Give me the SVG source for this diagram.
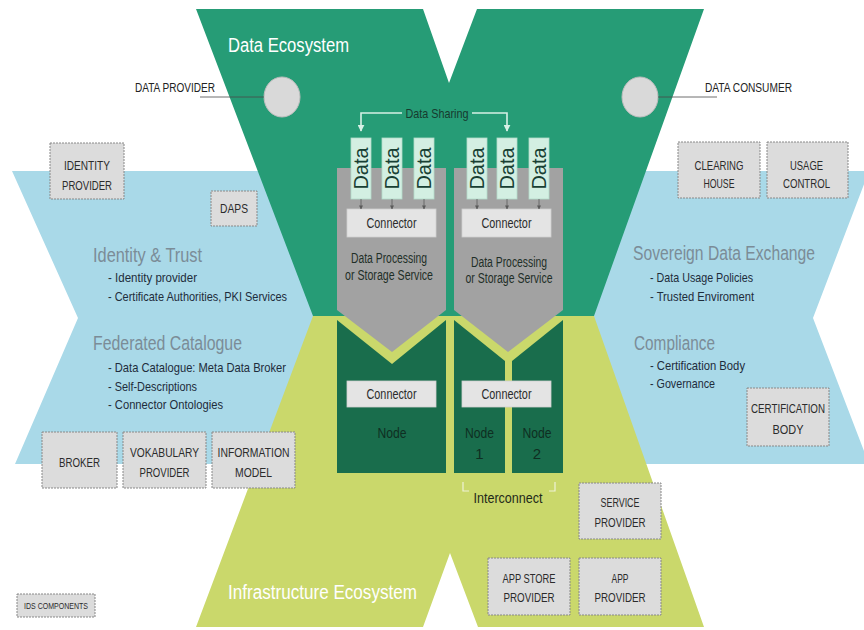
<svg xmlns="http://www.w3.org/2000/svg" width="864" height="630" viewBox="0 0 864 630">
  <defs>
    <marker id="arrowShare" viewBox="0 0 10 10" refX="9" refY="5" markerWidth="7" markerHeight="7" orient="auto" markerUnits="userSpaceOnUse">
      <path d="M0,0 L10,5 L0,10 z" fill="#d6f0e5"/>
    </marker>
    <marker id="arrowTick" viewBox="0 0 10 10" refX="9" refY="5" markerWidth="4" markerHeight="4" orient="auto" markerUnits="userSpaceOnUse">
      <path d="M0,0 L10,5 L0,10 z" fill="#5a5a5a"/>
    </marker>
  </defs>
  <style>
    text { font-family: "Liberation Sans", Arial, sans-serif; }
    .eco { font-size: 20px; fill: #ffffff; }
    .sec { font-size: 20px; fill: #7b8c97; }
    .bul { font-size: 13.5px; fill: #1e2c3b; }
    .lbl { font-size: 12px; fill: #222222; }
    .box { fill: #dcdcdc; stroke: #888888; stroke-width: 1; stroke-dasharray: 2 1; }
    .boxt { font-size: 13px; fill: #2b2b2b; text-anchor: middle; }
    .data { fill: #d3efe2; stroke: #b5dccb; stroke-width: 0.8; }
    .datat { font-size: 20px; fill: #183f33; text-anchor: middle; }
    .conn { fill: #e4e4e4; stroke: #cfcfcf; stroke-width: 0.8; }
    .connt { font-size: 14px; fill: #2b2b2b; text-anchor: middle; }
    .svc { fill: #a2a2a2; }
    .svct { font-size: 14px; fill: #1f2f28; text-anchor: middle; }
    .node { fill: #196d4c; }
    .nodet { font-size: 15px; fill: #0f2f22; text-anchor: middle; }
  </style>

  <rect width="864" height="630" fill="#ffffff"/>

  <!-- horizontal band: trust, catalogue, sovereignty, compliance -->
  <polygon id="band" points="12,171 869,171 813,318 869,464 15,464 78,318" fill="#a9d9e8"/>

  <!-- upper half of the X: data ecosystem -->
  <polygon id="data-ecosystem" points="196,9 423,9 449,83 477,9 704,9 594,316 313,316" fill="#269c76"/>
  <!-- lower half of the X: infrastructure ecosystem -->
  <polygon id="infrastructure-ecosystem" points="313,316 594,316 704,627 478,627 450,553 423,627 196,627" fill="#cad86b"/>

  <text class="eco" x="228" y="52" textLength="121" lengthAdjust="spacingAndGlyphs">Data Ecosystem</text>
  <text class="eco" x="228" y="599" textLength="189" lengthAdjust="spacingAndGlyphs">Infrastructure Ecosystem</text>

  <!-- section headings and bullet lists -->
  <g id="identity-trust">
    <text class="sec" x="93" y="262" textLength="109" lengthAdjust="spacingAndGlyphs">Identity &amp; Trust</text>
    <text class="bul" x="108" y="282" textLength="89" lengthAdjust="spacingAndGlyphs">- Identity provider</text>
    <text class="bul" x="108" y="301" textLength="179" lengthAdjust="spacingAndGlyphs">- Certificate Authorities, PKI Services</text>
  </g>
  <g id="federated-catalogue">
    <text class="sec" x="93" y="350" textLength="149" lengthAdjust="spacingAndGlyphs">Federated Catalogue</text>
    <text class="bul" x="108" y="372" textLength="178" lengthAdjust="spacingAndGlyphs">- Data Catalogue: Meta Data Broker</text>
    <text class="bul" x="108" y="390.5" textLength="89" lengthAdjust="spacingAndGlyphs">- Self-Descriptions</text>
    <text class="bul" x="108" y="409" textLength="115" lengthAdjust="spacingAndGlyphs">- Connector Ontologies</text>
  </g>
  <g id="sovereign-data-exchange">
    <text class="sec" x="633" y="260" textLength="182" lengthAdjust="spacingAndGlyphs">Sovereign Data Exchange</text>
    <text class="bul" x="650" y="282" textLength="103" lengthAdjust="spacingAndGlyphs">- Data Usage Policies</text>
    <text class="bul" x="650" y="301" textLength="104" lengthAdjust="spacingAndGlyphs">- Trusted Enviroment</text>
  </g>
  <g id="compliance">
    <text class="sec" x="634" y="350" textLength="81" lengthAdjust="spacingAndGlyphs">Compliance</text>
    <text class="bul" x="650" y="370" textLength="95" lengthAdjust="spacingAndGlyphs">- Certification Body</text>
    <text class="bul" x="650" y="388" textLength="65" lengthAdjust="spacingAndGlyphs">- Governance</text>
  </g>

  <!-- participants -->
  <g id="data-provider">
    <ellipse cx="282" cy="97" rx="18" ry="20" fill="#d9d9d9" stroke="#bdbdbd"/>
    <text class="lbl" x="135" y="91.5" textLength="80" lengthAdjust="spacingAndGlyphs">DATA PROVIDER</text>
  </g>
  <g id="data-consumer">
    <ellipse cx="640" cy="97" rx="18" ry="20" fill="#d9d9d9" stroke="#bdbdbd"/>
    <text class="lbl" x="705" y="91.5" textLength="87" lengthAdjust="spacingAndGlyphs">DATA CONSUMER</text>
  </g>

  <!-- IDS components -->
  <g id="identity-provider">
    <rect class="box" x="50" y="143" width="74" height="56"/>
    <text class="boxt" x="87" y="169.5" textLength="46" lengthAdjust="spacingAndGlyphs">IDENTITY</text>
    <text class="boxt" x="87" y="190" textLength="50" lengthAdjust="spacingAndGlyphs">PROVIDER</text>
  </g>
  <g id="daps">
    <rect class="box" x="211" y="191" width="46" height="35"/>
    <text class="boxt" x="234" y="213" textLength="28" lengthAdjust="spacingAndGlyphs">DAPS</text>
  </g>
  <g id="clearing-house">
    <rect class="box" x="678" y="142" width="82" height="56"/>
    <text class="boxt" x="719" y="169.5" textLength="49" lengthAdjust="spacingAndGlyphs">CLEARING</text>
    <text class="boxt" x="719" y="187.5" textLength="31" lengthAdjust="spacingAndGlyphs">HOUSE</text>
  </g>
  <g id="usage-control">
    <rect class="box" x="767" y="142" width="81" height="56"/>
    <text class="boxt" x="806.5" y="169.5" textLength="33" lengthAdjust="spacingAndGlyphs">USAGE</text>
    <text class="boxt" x="806.5" y="187.5" textLength="47" lengthAdjust="spacingAndGlyphs">CONTROL</text>
  </g>
  <g id="broker">
    <rect class="box" x="42" y="432" width="75" height="56"/>
    <text class="boxt" x="79.5" y="466.5" textLength="41" lengthAdjust="spacingAndGlyphs">BROKER</text>
  </g>
  <g id="vokabulary-provider">
    <rect class="box" x="123" y="432" width="83" height="56"/>
    <text class="boxt" x="164.5" y="457" textLength="69" lengthAdjust="spacingAndGlyphs">VOKABULARY</text>
    <text class="boxt" x="164.5" y="477" textLength="50" lengthAdjust="spacingAndGlyphs">PROVIDER</text>
  </g>
  <g id="information-model">
    <rect class="box" x="212" y="432" width="83" height="56"/>
    <text class="boxt" x="253.5" y="457" textLength="72" lengthAdjust="spacingAndGlyphs">INFORMATION</text>
    <text class="boxt" x="253.5" y="477" textLength="37" lengthAdjust="spacingAndGlyphs">MODEL</text>
  </g>
  <g id="certification-body">
    <rect class="box" x="747" y="388" width="82" height="58"/>
    <text class="boxt" x="788" y="413" textLength="74" lengthAdjust="spacingAndGlyphs">CERTIFICATION</text>
    <text class="boxt" x="788" y="434" textLength="31" lengthAdjust="spacingAndGlyphs">BODY</text>
  </g>
  <g id="service-provider">
    <rect class="box" x="579" y="483" width="82" height="56"/>
    <text class="boxt" x="620" y="507" textLength="39" lengthAdjust="spacingAndGlyphs">SERVICE</text>
    <text class="boxt" x="620" y="527" textLength="51" lengthAdjust="spacingAndGlyphs">PROVIDER</text>
  </g>
  <g id="app-store-provider">
    <rect class="box" x="488" y="558" width="82" height="57"/>
    <text class="boxt" x="529" y="583" textLength="53" lengthAdjust="spacingAndGlyphs">APP STORE</text>
    <text class="boxt" x="529" y="602" textLength="51" lengthAdjust="spacingAndGlyphs">PROVIDER</text>
  </g>
  <g id="app-provider">
    <rect class="box" x="579" y="558" width="82" height="57"/>
    <text class="boxt" x="620" y="583" textLength="17" lengthAdjust="spacingAndGlyphs">APP</text>
    <text class="boxt" x="620" y="602" textLength="51" lengthAdjust="spacingAndGlyphs">PROVIDER</text>
  </g>
  <g id="ids-components">
    <rect class="box" x="17" y="594" width="78" height="23"/>
    <text class="boxt" x="56" y="608.5" style="font-size:9px" textLength="64" lengthAdjust="spacingAndGlyphs">IDS COMPONENTS</text>
  </g>

  <!-- service blocks with their data and connectors -->
  <g id="service-left">
    <polygon class="svc" points="337,168 446,168 446,310 392,352 337,310"/>
    <text class="svct" x="389" y="263" textLength="76" lengthAdjust="spacingAndGlyphs">Data Processing</text>
    <text class="svct" x="389" y="280" textLength="88" lengthAdjust="spacingAndGlyphs">or Storage Service</text>
  </g>
  <g id="service-right">
    <polygon class="svc" points="454,168 563,168 563,310 508,352 454,310"/>
    <text class="svct" x="509" y="267" textLength="76" lengthAdjust="spacingAndGlyphs">Data Processing</text>
    <text class="svct" x="509" y="283" textLength="87" lengthAdjust="spacingAndGlyphs">or Storage Service</text>
  </g>

  <g id="data-l1"><rect class="data" x="351" y="138" width="20" height="61"/><text class="datat" transform="translate(368 168.5) rotate(-90)" textLength="42" lengthAdjust="spacingAndGlyphs">Data</text></g>
  <g id="data-l2"><rect class="data" x="382" y="138" width="20" height="61"/><text class="datat" transform="translate(399 168.5) rotate(-90)" textLength="42" lengthAdjust="spacingAndGlyphs">Data</text></g>
  <g id="data-l3"><rect class="data" x="414" y="138" width="20" height="61"/><text class="datat" transform="translate(431 168.5) rotate(-90)" textLength="42" lengthAdjust="spacingAndGlyphs">Data</text></g>
  <g id="data-r1"><rect class="data" x="467" y="138" width="20" height="61"/><text class="datat" transform="translate(484 168.5) rotate(-90)" textLength="42" lengthAdjust="spacingAndGlyphs">Data</text></g>
  <g id="data-r2"><rect class="data" x="497" y="138" width="20" height="61"/><text class="datat" transform="translate(514 168.5) rotate(-90)" textLength="42" lengthAdjust="spacingAndGlyphs">Data</text></g>
  <g id="data-r3"><rect class="data" x="529" y="138" width="20" height="61"/><text class="datat" transform="translate(546 168.5) rotate(-90)" textLength="42" lengthAdjust="spacingAndGlyphs">Data</text></g>

  <g id="connector-top-left">
    <rect class="conn" x="347" y="209" width="89" height="28"/>
    <text class="connt" x="391.5" y="228" textLength="50" lengthAdjust="spacingAndGlyphs">Connector</text>
  </g>
  <g id="connector-top-right">
    <rect class="conn" x="462" y="209" width="89" height="28"/>
    <text class="connt" x="506.5" y="228" textLength="50" lengthAdjust="spacingAndGlyphs">Connector</text>
  </g>

  <!-- nodes of the infrastructure -->
  <g id="node">
    <polygon class="node" points="337,320 392,364 446,320 446,473 337,473"/>
    <rect class="conn" x="347" y="381" width="89" height="26"/>
    <text class="connt" x="391.5" y="399" textLength="50" lengthAdjust="spacingAndGlyphs">Connector</text>
    <text class="nodet" x="392" y="437.5" textLength="29" lengthAdjust="spacingAndGlyphs">Node</text>
  </g>
  <g id="node-1">
    <polygon class="node" points="454,320 505,361 505,473 454,473"/>
    <text class="nodet" x="479.5" y="437.5" textLength="29" lengthAdjust="spacingAndGlyphs">Node</text>
    <text class="nodet" x="479.5" y="458.5">1</text>
  </g>
  <g id="node-2">
    <polygon class="node" points="512,361 563,320 563,473 512,473"/>
    <text class="nodet" x="537" y="437.5" textLength="29" lengthAdjust="spacingAndGlyphs">Node</text>
    <text class="nodet" x="537" y="458.5">2</text>
  </g>
  <g id="connector-bottom">
    <rect class="conn" x="462" y="381" width="89" height="26"/>
    <text class="connt" x="506.5" y="399" textLength="50" lengthAdjust="spacingAndGlyphs">Connector</text>
  </g>

  <!-- connectors -->
  <g id="connectors" fill="none">
    <line x1="200" y1="97" x2="264" y2="97" stroke="#4a4a4a" stroke-width="0.8"/>
    <line x1="658" y1="97" x2="717" y2="97" stroke="#4a4a4a" stroke-width="0.8"/>
    <path d="M402,113 H361 V131" stroke="#d6f0e5" stroke-width="1.6" marker-end="url(#arrowShare)"/>
    <path d="M472,113 H507 V131" stroke="#d6f0e5" stroke-width="1.6" marker-end="url(#arrowShare)"/>
    <g stroke="#5a5a5a" stroke-width="0.8" marker-end="url(#arrowTick)">
      <line x1="361" y1="199" x2="361" y2="209"/>
      <line x1="392" y1="199" x2="392" y2="209"/>
      <line x1="424" y1="199" x2="424" y2="209"/>
      <line x1="477" y1="199" x2="477" y2="209"/>
      <line x1="507" y1="199" x2="507" y2="209"/>
      <line x1="539" y1="199" x2="539" y2="209"/>
    </g>
    <polyline points="463,482 463,491 469,491" stroke="#eef2d6" stroke-width="1.2"/>
    <polyline points="549,491 555,491 555,482" stroke="#eef2d6" stroke-width="1.2"/>
  </g>
  <text x="437" y="117.5" style="font-size:13px;fill:#163a2e;text-anchor:middle" textLength="63" lengthAdjust="spacingAndGlyphs">Data Sharing</text>
  <text x="508" y="502.5" style="font-size:15px;fill:#1f2a1a;text-anchor:middle" textLength="69" lengthAdjust="spacingAndGlyphs">Interconnect</text>
</svg>
